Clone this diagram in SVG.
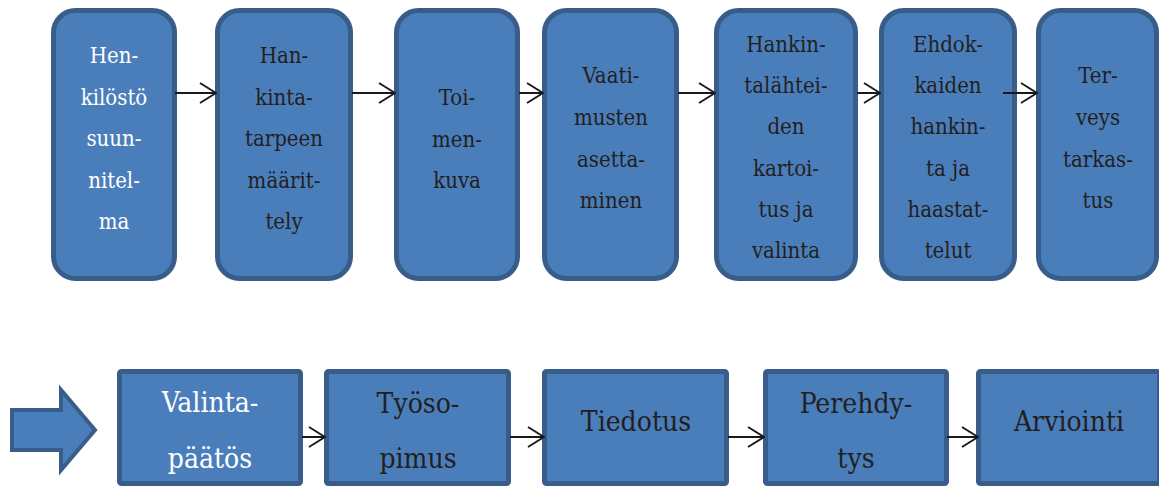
<svg xmlns="http://www.w3.org/2000/svg" width="1159" height="486" viewBox="0 0 1159 486">
  <style>
    .box { fill: #4a7ebb; stroke: #385d8a; stroke-width: 5; }
    .t, .b { font-family: 'DejaVu Serif Condensed', 'DejaVu Serif', serif; font-stretch: condensed; text-anchor: middle; fill: #231f20; }
    .t { font-size: 22px; }
    .b { font-size: 28px; }
    .w { fill: #ffffff; }
    .conn { stroke: #1a1a1a; stroke-width: 2; fill: none; marker-end: url(#open); }
  </style>
  <defs>
    <marker id="open" viewBox="0 0 18 22" markerWidth="18" markerHeight="22" refX="17" refY="11" orient="auto" markerUnits="userSpaceOnUse">
      <path d="M1,1 L17,11 L1,21" fill="none" stroke="#1a1a1a" stroke-width="2"/>
    </marker>
  </defs>
  <rect width="1159" height="486" fill="#ffffff"/>

  <!-- top row: rounded process steps -->
  <g id="henkilostosuunnitelma">
    <rect class="box" x="53.5" y="10.5" width="121" height="268" rx="22"/>
    <text class="t w" x="114"><tspan x="114" y="63">Hen-</tspan><tspan x="114" y="104.5">kilöstö</tspan><tspan x="114" y="146">suun-</tspan><tspan x="114" y="187.5">nitel-</tspan><tspan x="114" y="229">ma</tspan></text>
  </g>
  <g id="hankintatarpeen-maarittely">
    <rect class="box" x="217.5" y="10.5" width="133" height="268" rx="22"/>
    <text class="t" x="284"><tspan x="284" y="63">Han-</tspan><tspan x="284" y="104.5">kinta-</tspan><tspan x="284" y="146">tarpeen</tspan><tspan x="284" y="187.5">määrit-</tspan><tspan x="284" y="229">tely</tspan></text>
  </g>
  <g id="toimenkuva">
    <rect class="box" x="396.5" y="10.5" width="121" height="268" rx="22"/>
    <text class="t" x="457"><tspan x="457" y="105">Toi-</tspan><tspan x="457" y="146.5">men-</tspan><tspan x="457" y="188">kuva</tspan></text>
  </g>
  <g id="vaatimusten-asettaminen">
    <rect class="box" x="544.5" y="10.5" width="132" height="268" rx="22"/>
    <text class="t" x="611"><tspan x="611" y="83">Vaati-</tspan><tspan x="611" y="125">musten</tspan><tspan x="611" y="166.5">asetta-</tspan><tspan x="611" y="207.5">minen</tspan></text>
  </g>
  <g id="hankintalahteiden-kartoitus">
    <rect class="box" x="716.5" y="10.5" width="139" height="268" rx="22"/>
    <text class="t" x="786"><tspan x="786" y="52">Hankin-</tspan><tspan x="786" y="93">talähtei-</tspan><tspan x="786" y="134">den</tspan><tspan x="786" y="175.5">kartoi-</tspan><tspan x="786" y="217">tus ja</tspan><tspan x="786" y="258">valinta</tspan></text>
  </g>
  <g id="ehdokkaiden-hankinta">
    <rect class="box" x="881.5" y="10.5" width="133" height="268" rx="22"/>
    <text class="t" x="948"><tspan x="948" y="52">Ehdok-</tspan><tspan x="948" y="93">kaiden</tspan><tspan x="948" y="134">hankin-</tspan><tspan x="948" y="175.5">ta ja</tspan><tspan x="948" y="217">haastat-</tspan><tspan x="948" y="258">telut</tspan></text>
  </g>
  <g id="terveystarkastus">
    <rect class="box" x="1038.5" y="10.5" width="118" height="268" rx="22"/>
    <text class="t" x="1098"><tspan x="1098" y="83">Ter-</tspan><tspan x="1098" y="125">veys</tspan><tspan x="1098" y="166.5">tarkas-</tspan><tspan x="1098" y="207.5">tus</tspan></text>
  </g>

  <!-- bottom row: continuation arrow and square steps -->
  <g id="continue">
    <polygon class="box" style="stroke-width:4" points="12,410 61,410 61,390 95,430 61,470 61,450 12,450"/>
  </g>
  <g id="valintapaatos">
    <rect class="box" x="119.5" y="371.5" width="181" height="112" rx="2"/>
    <text class="b w" x="210"><tspan x="210" y="412">Valinta-</tspan><tspan x="210" y="468">päätös</tspan></text>
  </g>
  <g id="tyosopimus">
    <rect class="box" x="326.5" y="371.5" width="182" height="112" rx="2"/>
    <text class="b" x="418"><tspan x="418" y="413">Työso-</tspan><tspan x="418" y="468">pimus</tspan></text>
  </g>
  <g id="tiedotus">
    <rect class="box" x="544.5" y="371.5" width="182" height="112" rx="2"/>
    <text class="b" x="636" y="431">Tiedotus</text>
  </g>
  <g id="perehdytys">
    <rect class="box" x="765.5" y="371.5" width="181" height="112" rx="2"/>
    <text class="b" x="856"><tspan x="856" y="413">Perehdy-</tspan><tspan x="856" y="468">tys</tspan></text>
  </g>
  <g id="arviointi">
    <rect class="box" x="978.5" y="371.5" width="181" height="112" rx="2"/>
    <text class="b" x="1069" y="431">Arviointi</text>
  </g>

  <!-- connectors -->
  <g id="connectors">
    <line class="conn" x1="175" y1="93" x2="216" y2="93"/>
    <line class="conn" x1="352" y1="93" x2="395" y2="93"/>
    <line class="conn" x1="519" y1="93" x2="543" y2="93"/>
    <line class="conn" x1="678" y1="93" x2="715" y2="93"/>
    <line class="conn" x1="857" y1="93" x2="880" y2="93"/>
    <line class="conn" x1="1003" y1="93" x2="1037" y2="93"/>
    <line class="conn" x1="302" y1="437" x2="325" y2="437"/>
    <line class="conn" x1="510" y1="437" x2="544" y2="437"/>
    <line class="conn" x1="728" y1="437" x2="764" y2="437"/>
    <line class="conn" x1="947" y1="437" x2="978" y2="437"/>
  </g>
</svg>
